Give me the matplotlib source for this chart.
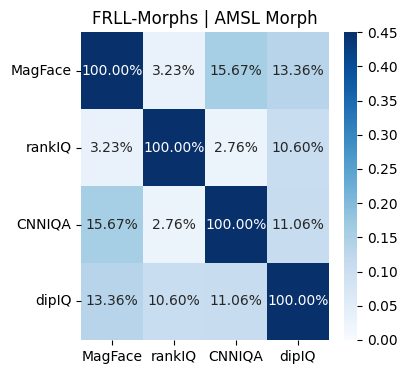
import numpy as np
import matplotlib
matplotlib.use('Agg')
import matplotlib.pyplot as plt
import seaborn as sns

labels = ['MagFace', 'rankIQ', 'CNNIQA', 'dipIQ']
overlap = [
    [1.0000, 0.0323, 0.1567, 0.1336],
    [0.0323, 1.0000, 0.0276, 0.1060],
    [0.1567, 0.0276, 1.0000, 0.1106],
    [0.1336, 0.1060, 0.1106, 1.0000],
]

fig = plt.figure(figsize=(4.1, 3.74), dpi=100)
ax = fig.add_axes([0.198, 0.091, 0.604, 0.823])
cax = fig.add_axes([0.839, 0.091, 0.032, 0.823])

sns.heatmap(np.array(overlap), ax=ax, cbar_ax=cax, cmap='Blues', vmin=0, vmax=0.45,
            annot=True, fmt='.2%', xticklabels=labels, yticklabels=labels)
ax.set_title('FRLL-Morphs | AMSL Morph')
ax.set_yticklabels(labels, rotation=0)
cax.set_yticks(np.arange(0, 0.46, 0.05))
cax.set_yticklabels(['%.2f' % v for v in np.arange(0, 0.46, 0.05)])

fig.savefig('out.png', dpi=100)
